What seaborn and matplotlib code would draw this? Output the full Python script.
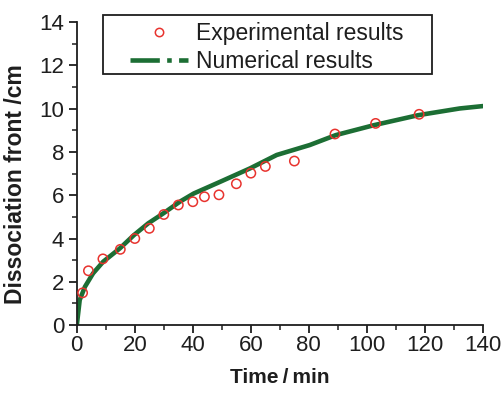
import matplotlib
matplotlib.use('Agg')
import matplotlib.pyplot as plt
from matplotlib.lines import Line2D
from matplotlib.patches import Rectangle
from matplotlib.ticker import MultipleLocator
import seaborn as sns
import pandas as pd

# Experimental results (time in min, dissociation front in cm)
exp_time = [2, 4, 9, 15, 20, 25, 30, 35, 40, 44, 49, 55, 60, 65, 75, 89, 103, 118]
exp_front = [1.49, 2.51, 3.06, 3.5, 4.0, 4.47, 5.11, 5.55, 5.70, 5.93, 6.02,
             6.53, 7.02, 7.33, 7.58, 8.83, 9.32, 9.74]

# Numerical results
num_time = [0, 1, 2.8, 5.6, 9.1, 14.8, 19.7, 24.6, 29.8, 35.5, 40.3, 49.4,
            59.7, 68.9, 80.3, 89.3, 102.5, 117.7, 132, 140]
num_front = [0, 1.16, 1.77, 2.39, 2.93, 3.54, 4.16, 4.70, 5.16, 5.70, 6.08, 6.62,
             7.24, 7.86, 8.32, 8.78, 9.24, 9.70, 10.01, 10.12]

labels = ['Experimental results', 'Numerical results']

df_exp = pd.DataFrame({'t': exp_time, 'y': exp_front})
df_num = pd.DataFrame({'t': num_time, 'y': num_front})

sns.set_theme(style='ticks')
plt.rcParams['font.family'] = ['Liberation Sans', 'DejaVu Sans']

green = '#1c6e34'
red = '#e8332e'
ink = '#1e1e1e'

fig = plt.figure(figsize=(5.02, 3.95), dpi=100)
ax = fig.add_axes([0.153, 0.177, 0.809, 0.767])

sns.lineplot(data=df_num, x='t', y='y', ax=ax, color=green, linewidth=3.3)
sns.scatterplot(data=df_exp, x='t', y='y', ax=ax, marker='o', s=45,
                facecolors='none', edgecolor=red, linewidth=1.1, zorder=3)

ax.set_xlim(0, 140)
ax.set_ylim(0, 14)
ax.xaxis.set_major_locator(MultipleLocator(20))
ax.xaxis.set_minor_locator(MultipleLocator(10))
ax.yaxis.set_major_locator(MultipleLocator(2))
ax.yaxis.set_minor_locator(MultipleLocator(1))
ax.tick_params(which='major', direction='out', length=6, width=1.3, labelsize=16, colors=ink)
ax.tick_params(which='minor', direction='out', length=3.5, width=1.1, colors=ink)
ax.tick_params(axis='x', which='major', pad=1)
ax.tick_params(axis='y', which='major', pad=3)
sns.despine(ax=ax)
for s in ['left', 'bottom']:
    ax.spines[s].set_linewidth(1.3)
    ax.spines[s].set_color(ink)

ax.set_xlabel('Time\u2009/\u2009min', fontsize=15, fontweight='bold', labelpad=9, color=ink)
ax.set_ylabel('Dissociation front /cm', fontsize=16.5, fontweight='bold', labelpad=9, color=ink)
ax.yaxis.label.set_y(0.465)

handles = [
    Line2D([], [], linestyle='none', marker='o', markersize=6, markerfacecolor='none',
           markeredgecolor=red, markeredgewidth=1.1),
    Line2D([], [], color=green, linewidth=3.3, linestyle='-.'),
]
leg = fig.legend(handles, labels, loc='upper left', bbox_to_anchor=(0.223, 0.99),
                 fontsize=16.5, frameon=False, handlelength=2.5, borderpad=0.3,
                 labelspacing=0.2, handletextpad=0.35)
for t in leg.get_texts():
    t.set_color(ink)

# legend box, wider than the text as in the original
fig.patches.append(Rectangle((103 / 502, 1 - 74 / 395), 329 / 502, 59 / 395,
                             transform=fig.transFigure, fill=False,
                             edgecolor=ink, linewidth=1.3, zorder=5))

fig.savefig('out.png', dpi=100)
